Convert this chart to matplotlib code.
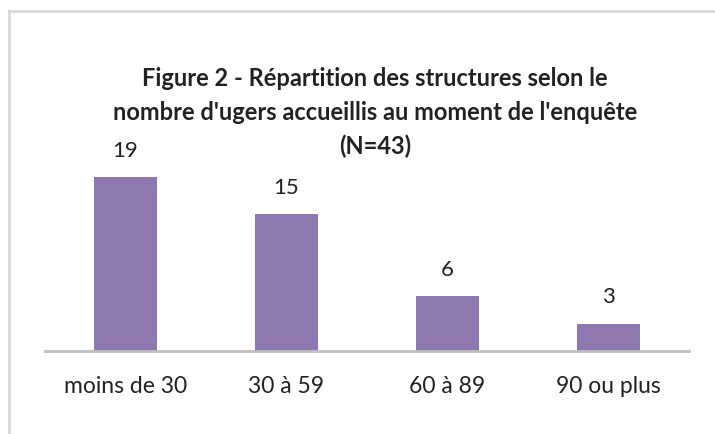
import matplotlib.pyplot as plt
from matplotlib.lines import Line2D

categories = ["moins de 30", "30 à 59", "60 à 89", "90 ou plus"]
values = [19, 15, 6, 3]
title_lines = ["Figure 2 - Répartition des structures selon le",
               "nombre d'ugers accueillis au moment de l'enquête",
               "(N=43)"]

W, H = 715, 435
fig = plt.figure(figsize=(W / 100, H / 100), dpi=100)
fig.patch.set_facecolor("white")

# axes placed in pixel terms: baseline at y=352, x from 45 to 689
ax = fig.add_axes([45 / W, 1 - 352 / H, 644 / W, 201.5 / H])
x = range(len(categories))
ax.bar(x, values, width=0.39, color="#8F77B0")
ax.set_xlim(-0.5, len(categories) - 0.5)
ax.set_ylim(0, 22)

for i, v in zip(x, values):
    ax.annotate(str(v), (i, v), xytext=(0, 19.5), textcoords="offset points",
                ha="center", va="center", fontsize=16, family="Lato", color="#222222")

ax.set_xticks(list(x))
ax.set_xticklabels(categories, fontsize=16.5, family="Lato", color="#222222")
ax.tick_params(axis="x", length=0, pad=17)
ax.set_yticks([])
for s in ["top", "left", "right"]:
    ax.spines[s].set_visible(False)
ax.spines["bottom"].set_color("#BFBFBF")
ax.spines["bottom"].set_linewidth(2)

# title, one line at a time so each stays compact
for line, ypix in zip(title_lines, [78, 112, 146]):
    fig.text(375 / W, 1 - ypix / H, line, ha="center", va="center", fontsize=17,
             family="Lato", fontweight="bold", color="#222222")

# outer frame (only top and left edges visible)
fig.add_artist(Line2D([9 / W, 1], [1 - 12 / H, 1 - 12 / H], color="#D9D9D9", lw=2))
fig.add_artist(Line2D([9 / W, 9 / W], [0, 1 - 12 / H], color="#D9D9D9", lw=2))

fig.savefig("out.png", dpi=100)
